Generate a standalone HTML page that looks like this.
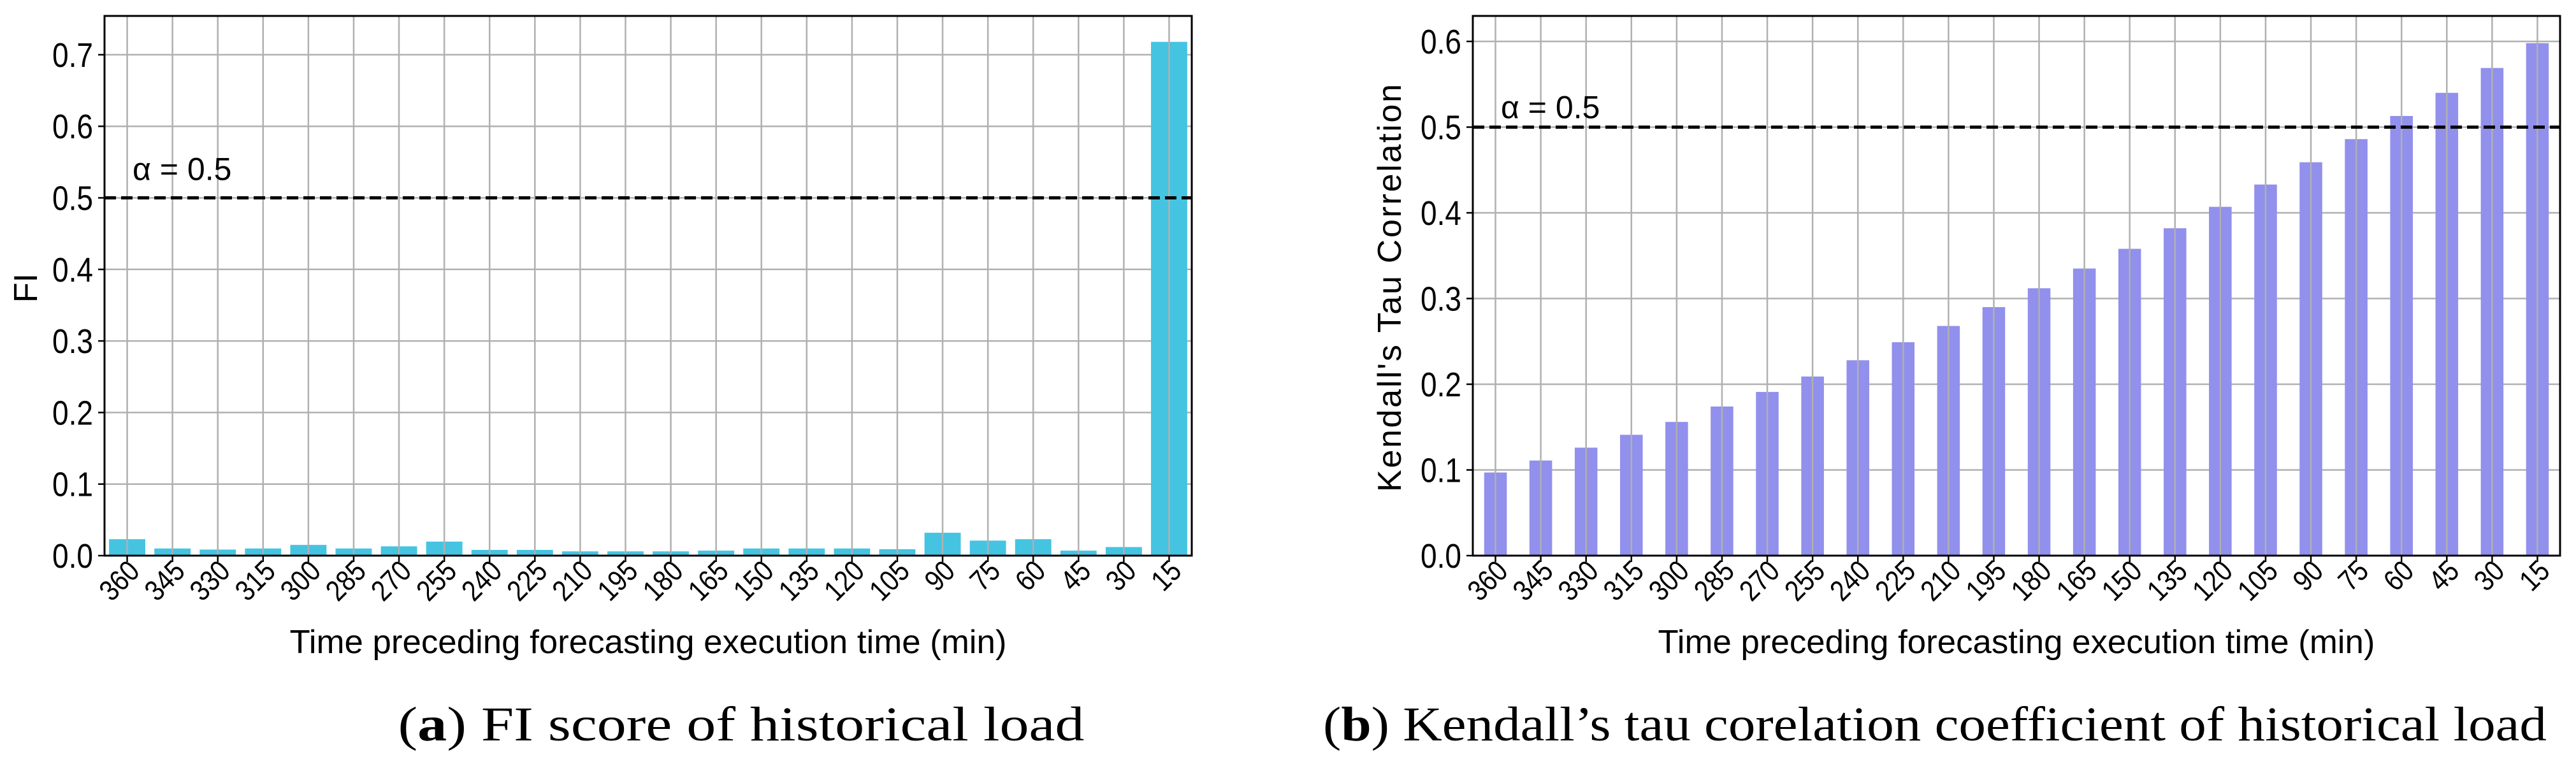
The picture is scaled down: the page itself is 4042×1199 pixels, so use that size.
<!DOCTYPE html>
<html><head><meta charset="utf-8"><style>
html,body{margin:0;padding:0;background:#fff;}
svg{display:block;font-family:"Liberation Sans",sans-serif;}
</style></head><body>
<svg id="fig" width="4042" height="1199" viewBox="0 0 4042 1199" xmlns="http://www.w3.org/2000/svg">
<g id="chartA"></g>
<g id="chartB"></g>
<text x="1163" y="1162" text-anchor="middle" font-family="Liberation Serif, serif" font-size="76" textLength="1077" lengthAdjust="spacingAndGlyphs">(<tspan font-weight="bold">a</tspan>) FI score of historical load</text>
<text x="3036" y="1162" text-anchor="middle" font-family="Liberation Serif, serif" font-size="76" textLength="1920" lengthAdjust="spacingAndGlyphs">(<tspan font-weight="bold">b</tspan>) Kendall’s tau corelation coefficient of historical load</text>
</svg>
<script>
const categories = ["360","345","330","315","300","285","270","255","240","225","210","195","180","165","150","135","120","105","90","75","60","45","30","15"];
const fiValues = [0.023,0.010,0.0085,0.010,0.015,0.010,0.013,0.0196,0.008,0.008,0.006,0.006,0.006,0.007,0.010,0.010,0.010,0.009,0.032,0.021,0.023,0.007,0.012,0.718];
const tauValues = [0.097,0.111,0.126,0.141,0.156,0.174,0.191,0.209,0.228,0.249,0.268,0.290,0.312,0.335,0.358,0.382,0.407,0.433,0.459,0.486,0.513,0.540,0.569,0.598];
const fiTicks = ["0.0","0.1","0.2","0.3","0.4","0.5","0.6","0.7"];
const tauTicks = ["0.0","0.1","0.2","0.3","0.4","0.5","0.6"];
const threshold = 0.5;

const NS = "http://www.w3.org/2000/svg";
function mk(parent, tag, attrs, text){
  const e = document.createElementNS(NS, tag);
  for (const k in attrs) e.setAttribute(k, attrs[k]);
  if (text !== undefined) e.textContent = text;
  parent.appendChild(e);
  return e;
}

function drawChart(g, cfg){
  const L = cfg.left, R = cfg.left + 1706, T = 25, B = cfg.zeroY;
  const n = categories.length;
  const step = (R - L) / n;
  const xs = i => L + step * (i + 0.5);
  const ys = v => B - v * cfg.pxPerUnit;
  cfg.ticks.forEach(t => {
    const y = ys(parseFloat(t));
    const gl = mk(g, "line", {x1: L, x2: R, y1: y, y2: y, stroke: "#b0b0b0", "stroke-width": 2.5});
    
    
  });
  cfg.values.forEach((v, i) => {
    const w = step * cfg.barFrac;
    const r = mk(g, "rect", {x: xs(i) - w / 2, y: ys(v), width: w, height: B - ys(v), fill: cfg.color});
    
    
  });
  categories.forEach((c, i) => {
    const gl = mk(g, "line", {x1: xs(i), x2: xs(i), y1: T, y2: B, stroke: "#b0b0b0", "stroke-width": 2.5});
    
    
  });
  const th = mk(g, "line", {x1: L, x2: R, y1: ys(threshold), y2: ys(threshold), stroke: "#000", "stroke-width": 5, "stroke-dasharray": "18 8"});
  
  
  const tl = mk(g, "text", {x: L + 44, y: ys(threshold) - cfg.alphaOffset, "font-size": 50}, "α = " + threshold);
  
  
  const fr = mk(g, "rect", {x: L, y: T, width: R - L, height: B - T, fill: "none", stroke: "#000", "stroke-width": 3});
  
  
  cfg.ticks.forEach(t => {
    const y = ys(parseFloat(t));
    const tk = mk(g, "line", {x1: L - 10, x2: L, y1: y, y2: y, stroke: "#000", "stroke-width": 2.5});
    
    
    const lb = mk(g, "text", {x: L - 18, y: y + 19, "text-anchor": "end", "font-size": 54, textLength: 64, lengthAdjust: "spacingAndGlyphs"}, t);
    
    
  });
  categories.forEach((c, i) => {
    const x = xs(i);
    const tk = mk(g, "line", {x1: x, x2: x, y1: B, y2: B + 10, stroke: "#000", "stroke-width": 2.5});
    
    
    const ax = x + 22, ay = B + 27;
    const lb = mk(g, "text", {x: ax, y: ay, "text-anchor": "end", "font-size": 46, transform: "rotate(-45 " + ax + " " + ay + ")", textLength: c.length * 22, lengthAdjust: "spacingAndGlyphs"}, c);
    
    
  });
  const xt = mk(g, "text", {x: (L + R) / 2, y: 1025, "text-anchor": "middle", "font-size": 52, textLength: 1125, lengthAdjust: "spacingAndGlyphs"}, "Time preceding forecasting execution time (min)");
  
  
  const yx = cfg.yTitleX, yy = 452;
  const yt = mk(g, "text", {x: yx, y: yy, "text-anchor": "middle", "font-size": 52, transform: "rotate(-90 " + yx + " " + yy + ")"}, cfg.yTitle);
  if (cfg.yTitleLen) yt.setAttribute("textLength", cfg.yTitleLen);
  
  
}

drawChart(document.getElementById("chartA"), {
  left: 164, zeroY: 872, pxPerUnit: 1123, values: fiValues, ticks: fiTicks,
  color: "#45c4e2", barFrac: 0.8, yTitle: "FI", yTitleX: 58, alphaOffset: 28
});
drawChart(document.getElementById("chartB"), {
  left: 2311, zeroY: 872, pxPerUnit: 1345, values: tauValues, ticks: tauTicks,
  color: "#9190ec", barFrac: 0.5, yTitle: "Kendall's Tau Correlation", yTitleX: 2198, yTitleLen: 640, alphaOffset: 14
});
</script>
</body></html>
